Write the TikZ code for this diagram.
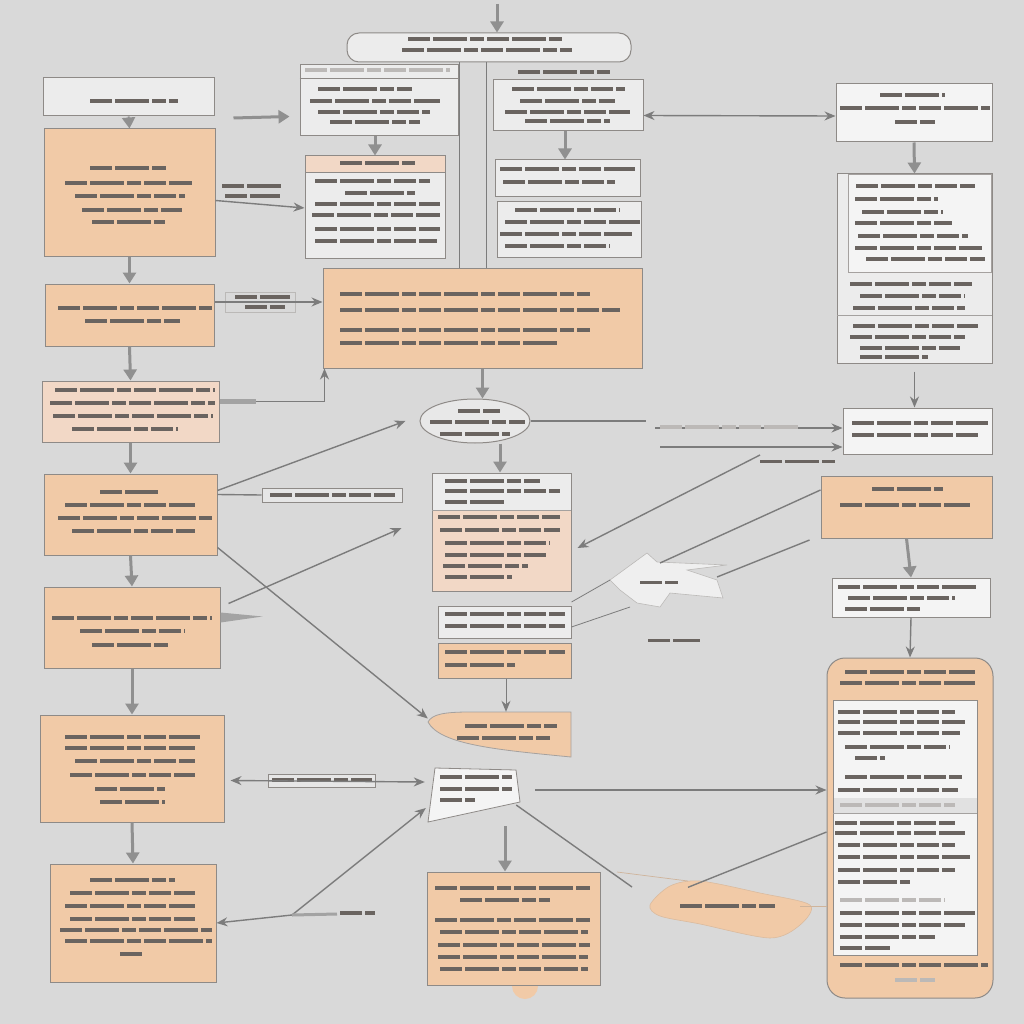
\documentclass[tikz,border=0pt]{standalone}
\usetikzlibrary{arrows.meta,positioning,calc,shapes.geometric}
\definecolor{bgc}{HTML}{D9D9D9}
\definecolor{peachc}{HTML}{F1CAA7}
\definecolor{peachlt}{HTML}{F2D8C6}
\definecolor{litec}{HTML}{ECECEC}
\definecolor{whitec}{HTML}{F4F4F4}
\definecolor{edgec}{HTML}{8E8A87}
\definecolor{linec}{HTML}{7C7C7C}
\definecolor{inkc}{HTML}{6A6460}
\tikzset{
  peach/.style={draw=edgec, fill=peachc, line width=1pt, inner sep=0pt},
  lite/.style={draw=edgec, fill=litec, line width=1pt, inner sep=0pt},
  conn/.style={draw=linec, line width=1.4pt},
  arr/.style={conn, -{Stealth[length=11pt,width=9pt]}},
  dbl/.style={conn, {Stealth[length=11pt,width=9pt]}-{Stealth[length=11pt,width=9pt]}},
  fat/.style={draw=linec!85, line width=3pt, -{Triangle[length=11pt,width=13pt]}},
  ink/.style={draw=inkc, line width=4pt, dash pattern=on 22pt off 3pt on 34pt off 3pt on 14pt off 3pt},
  faint/.style={ink, draw=inkc!45},
}
\begin{document}
\begin{tikzpicture}[x=1pt,y=-1pt]
		% Background
		\fill[bgc] (0,0) rectangle (1024,1024);

		% Top
		\node[lite, rounded corners=12pt, minimum width=284pt, minimum height=29pt] (top) at (489,47.5) {};
		\foreach \ty/\xa/\xb in {39/408/562, 50/402/572} \draw[ink] (\xa,\ty) -- (\xb,\ty);
		\coordinate (src) at (497,4);
		\draw[fat] (src) -- (top.north -| src);

		% Left column
		\node[lite, minimum width=171pt, minimum height=38pt] (l0) at (128.5,97) {};
		\node[peach, minimum width=171pt, minimum height=127pt] (l1) at (129.5,192.5) {};
		\node[peach, minimum width=169pt, minimum height=62pt] (l2) at (129.5,315) {};
		\node[peach, fill=peachlt, minimum width=177pt, minimum height=61pt] (l3) at (130.5,411.5) {};
		\node[peach, minimum width=173pt, minimum height=81pt] (l4) at (130.5,514.5) {};
		\node[peach, minimum width=176pt, minimum height=81pt] (l5) at (132,627.5) {};
		\node[peach, minimum width=184pt, minimum height=107pt] (l6) at (132,768.5) {};
		\node[peach, minimum width=166pt, minimum height=118pt] (l7) at (133,923) {};
		\foreach \ty/\xa/\xb in {101/90/178,
			168/90/168, 183/65/192, 196/75/185, 210/82/182, 222/92/165,
			308/58/212, 321/85/180,
			390/55/215, 403/50/215, 416/53/213, 429/72/178,
			492/100/158, 505/65/195, 518/58/212, 531/72/195,
			618/52/212, 631/80/185, 645/92/170,
			737/65/200, 748/65/195, 761/75/195, 775/70/195, 789/95/165, 802/100/165,
			880/90/175, 893/70/195, 906/65/195, 919/70/195, 930/60/212, 941/65/212, 954/120/145}
			\draw[ink] (\xa,\ty) -- (\xb,\ty);
		\draw[fat, line width=2pt] (l0.south) -- (l1.north);
		\draw[fat] (l1.south) -- (l2.north);
		\draw[fat] (l2.south) -- (l3.north);
		\draw[fat] (l3.south) -- (l4.north);
		\draw[fat] (l4.south) -- (l5.north);
		\draw[fat] (l5.south) -- (l6.north);
		\draw[fat] (l6.south) -- (l7.north);

		% Middle column, upper part
		\node[lite, minimum width=158pt, minimum height=71pt] (m1) at (379,100.5) {};
		\draw[edgec, line width=0.8pt] (m1.west |- 0,78) -- (m1.east |- 0,78);
		\node[lite, minimum width=150pt, minimum height=51pt] (m2) at (568,105.5) {};
		\node[lite, minimum width=140pt, minimum height=102pt] (m3) at (375,207) {};
		\fill[peachlt] (305.5,156.5) rectangle (444.5,172);
		\draw[edgec, line width=0.8pt] (305,172) -- (445,172);
		\node[lite, minimum width=145pt, minimum height=37pt] (m4) at (567.5,178.5) {};
		\node[lite, minimum width=144pt, minimum height=55pt] (m5) at (569,229.5) {};
		\node[peach, minimum width=319pt, minimum height=100pt] (m6) at (482.5,318) {};
		\foreach \ty/\xa/\xb in {89/318/412, 101/310/440, 112/318/430, 122/330/420,
			72/518/610, 89/512/625, 101/520/615, 112/505/630, 121/525/610,
			163/340/415, 181/315/430, 193/345/415, 204/315/440, 215/312/440, 229/315/440, 241/315/437,
			169/500/635, 182/503/615,
			210/515/620, 222/505/640, 234/500/632, 246/505/610,
			294/340/590, 310/340/620, 330/340/590, 343/340/557}
			\draw[ink] (\xa,\ty) -- (\xb,\ty);
		\draw[faint] (305,70) -- (450,70);
		\coordinate (v1) at (459,0);
		\coordinate (v2) at (486,0);
		\draw[conn, line width=1pt] (top.south -| v1) -- (m6.north -| v1);
		\draw[conn, line width=1pt] (top.south -| v2) -- (m6.north -| v2);

		% Upper connectors
		\draw[fat] ([xshift=19pt,yshift=-21pt]l0.east) -- ([xshift=-10pt,yshift=-16pt]m1.west);
		\draw[arr] ([yshift=-8pt]l1.east) -- ([yshift=-1pt]m3.west);
		\foreach \ty/\xa/\xb in {186/222/282, 196/225/280} \draw[ink, line width=3.5pt] (\xa,\ty) -- (\xb,\ty);
		\draw[fat] (m1.south -| m3.north) -- (m3.north);
		\draw[fat] ([xshift=-3pt]m2.south) -- ([xshift=-2.5pt]m4.north);
		\node[draw=edgec!60, line width=0.8pt, minimum width=70pt, minimum height=20pt, inner sep=0pt] (lab2) at (260,302) {};
		\draw[arr] (l2.east |- lab2) -- (m6.west |- lab2);
		\foreach \ty/\xa/\xb in {297/235/290, 307/245/285} \draw[ink, line width=3.5pt] (\xa,\ty) -- (\xb,\ty);
		\draw[arr] ([yshift=10pt]l3.east) -| ([xshift=2pt]m6.south west);
		\draw[draw=linec!70, line width=5pt] ([yshift=10pt]l3.east) -- ++(36,0);

		% Ellipse and the middle boxes
		\node[lite, fill=litec!80!bgc, ellipse, minimum width=110pt, minimum height=44pt] (e1) at (475,421) {};
		\foreach \ty/\xa/\xb in {411/458/500, 422/430/525, 434/440/510} \draw[ink, line width=3.5pt] (\xa,\ty) -- (\xb,\ty);
		\draw[fat] (m6.south) -- (m6.south |- e1.north);
		\draw[conn] (e1.east) -- ++(115,0);
		\node[peach, fill=peachlt, minimum width=139pt, minimum height=118pt] (m7) at (501.5,532) {};
		\fill[litec] (432.5,473.5) rectangle (570.5,510);
		\draw[edgec!80, line width=0.8pt] (432,510) -- (571,510);
		\node[lite, minimum width=133pt, minimum height=32pt] (m8) at (504.5,622) {};
		\node[peach, minimum width=133pt, minimum height=35pt] (m9) at (504.5,660.5) {};
		\foreach \ty/\xa/\xb in {481/445/540, 491/445/560, 502/445/505,
			517/438/560, 530/440/560, 543/445/550, 555/445/548, 566/443/528, 577/445/512,
			614/445/565, 626/445/565, 652/445/565, 665/445/515}
			\draw[ink] (\xa,\ty) -- (\xb,\ty);
		\draw[fat] ([xshift=25pt]e1.south) -- ([xshift=-1.5pt]m7.north);

		% Leaf shaped box
		\node[minimum width=143pt, minimum height=45pt, inner sep=0pt] (m10) at (499.5,734.5) {};
		\filldraw[fill=peachc, draw=edgec!80, line width=0.8pt] (571,712) -- (571,757)
			.. controls (500,750) and (440,745) .. (428,722) .. controls (432,714) and (445,712) .. (470,712) -- cycle;
		\foreach \ty/\xa/\xb in {726/465/557, 738/457/550} \draw[ink, line width=3.5pt] (\xa,\ty) -- (\xb,\ty);
		\draw[arr, line width=1pt] ([xshift=1.5pt]m9.south) -- ([xshift=6.5pt]m10.north);

		% Splash
		\filldraw[fill=litec!85, draw=edgec!60, line width=0.6pt] (610,580) -- (647,553) -- (657,562) -- (727,565) -- (687,570)
			-- (717,580) -- (723,598) -- (670,593) -- (660,607) -- (637,603) -- (620,590) -- cycle;
		\draw[ink, line width=3pt] (640,582) -- (678,582);
		\draw[ink, line width=3pt] (648,640) -- (700,640);
		\coordinate (st1) at (660,563);
		\coordinate (st2) at (717,577);

		% Left to middle connectors
		\draw[arr] ([yshift=24pt]l4.east) -- ([xshift=-14pt]e1.west);
		\node[lite, fill=litec!70!bgc, minimum width=140pt, minimum height=14pt] (lab4) at (332,495) {};
		\draw[ink, line width=3.5pt] (270,495) -- (395,495);
		\draw[conn] ([yshift=20pt]l4.east) -- (lab4.west);
		\draw[arr] ([xshift=8pt,yshift=24pt]l5.east) -- ([xshift=-30pt,yshift=4pt]m7.west);
		\draw[arr] ([yshift=-33pt]l4.east) -- ([yshift=16pt]m10.west);
		\fill[linec!70] ([yshift=15pt]l5.east) -- ++(42,4) -- ++(-42,6) -- cycle;

		% Lower middle
		\node[minimum width=84pt, minimum height=54pt, inner sep=0pt] (m11) at (474,795) {};
		\filldraw[fill=whitec, draw=edgec, line width=0.8pt] (435,768) -- (516,770) -- (520,802) -- (428,822) -- cycle;
		\foreach \ty/\xa/\xb in {777/440/512, 789/440/512, 800/440/475} \draw[ink, line width=3.5pt] (\xa,\ty) -- (\xb,\ty);
		\fill[peachc] (525,986) circle (13pt);
		\node[peach, minimum width=173pt, minimum height=113pt] (m12) at (513.5,928.5) {};
		\foreach \ty/\xa/\xb in {888/435/592, 900/460/550, 920/435/592, 932/440/588, 945/438/590, 957/438/588, 969/440/588}
			\draw[ink] (\xa,\ty) -- (\xb,\ty);
		\node[lite, fill=litec!70!bgc, minimum width=107pt, minimum height=13pt] (lab6) at (321.5,780.5) {};
		\draw[ink, line width=3.5pt] (272,780) -- (372,780);
		\draw[dbl] ([xshift=6pt,yshift=-12pt]l6.east) -- ([xshift=-7pt,yshift=13pt]m11.west);
		\coordinate (k1) at (292,915);
		\draw[dbl] (l7.east) -- (k1) -- ([xshift=-6pt,yshift=-13pt]m11.west);
		\draw[conn, draw=linec!70, line width=3pt] (k1) -- ++(45,-1);
		\draw[ink, line width=3.5pt] (340,913) -- (375,913);
		\draw[fat] ([xshift=31pt,yshift=-4pt]m11.south) -- ([xshift=-8.5pt]m12.north);
		\coordinate (k2) at (632,887);
		\draw[conn] ([yshift=-10pt]m11.east) -- (k2);

		% Right column
		\node[lite, fill=whitec, minimum width=156pt, minimum height=58pt] (r0) at (914,113) {};
		\node[lite, minimum width=155pt, minimum height=189pt] (r1) at (914.5,268.5) {};
		\filldraw[fill=whitec, draw=edgec!80, line width=0.8pt] (848,174.5) rectangle (991.5,272);
		\draw[edgec!80, line width=0.8pt] (837,315) -- (992,315);
		\node[lite, fill=whitec, minimum width=149pt, minimum height=46pt] (r2) at (917.5,431) {};
		\node[peach, minimum width=171pt, minimum height=62pt] (r3) at (906.5,507) {};
		\node[lite, fill=whitec, minimum width=158pt, minimum height=39pt] (r4) at (911,597.5) {};
		\node[peach, rounded corners=18pt, minimum width=166pt, minimum height=340pt] (r5) at (910,828) {};
		\node[lite, fill=whitec, minimum width=144pt, minimum height=255pt] (r5in) at (905,827.5) {};
		\fill[litec!90!gray] (833.5,798) rectangle (976.5,813);
		\draw[edgec!80, line width=0.8pt] (833,813) -- (977,813);
		\foreach \ty/\xa/\xb in {95/880/945, 108/840/990, 122/895/935,
			186/856/975, 199/855/938, 212/862/943, 223/855/952, 236/858/968, 248/855/982, 259/866/985,
			284/850/972, 296/860/965, 308/853/965,
			326/853/978, 337/850/965, 348/860/960, 357/860/928,
			423/852/988, 435/852/978,
			489/872/943, 505/840/970,
			587/838/978, 598/848/955, 609/845/920,
			672/845/975, 683/840/975,
			712/838/955, 722/838/965, 733/838/960, 747/845/950, 758/855/885, 777/845/962, 790/838/958,
			823/835/955, 833/835/965, 845/838/955, 857/838/970, 870/838/955, 882/838/910,
			913/840/975, 925/840/965, 937/840/935, 948/840/890,
			965/840/988}
			\draw[ink] (\xa,\ty) -- (\xb,\ty);
		\foreach \ty/\xa/\xb in {805/840/955, 900/840/945, 980/895/935} \draw[faint] (\xa,\ty) -- (\xb,\ty);
		\draw[fat] (r0.south) -- (r1.north);
		\draw[arr] ([yshift=-8pt]r1.south) -- (r1.south |- r2.north);
		\draw[fat] (r3.south) -- (r4.north);
		\draw[arr] (r4.south) -- (r5.north);

		% Right to middle connectors
		\draw[dbl] ([yshift=-10pt]m2.east) -- ([yshift=-3pt]r0.west);
		\coordinate (c1) at (655,428);
		\coordinate (c2) at (660,447);
		\draw[arr] (c1) -- (c1 -| r2.west);
		\draw[faint, line width=3.5pt] (660,427) -- (800,427);
		\draw[arr] (c2) -- (c2 -| r2.west);
		\draw[ink, line width=3pt] (760,461) -- (835,461);
		\coordinate (k5) at (760,455);
		\draw[arr] (k5) -- ([xshift=6pt,yshift=-16pt]m7.east);
		\draw[conn] ([yshift=17pt]r3.west) -- (st1);
		\draw[conn] ([xshift=-11pt,yshift=-33pt]r3.west) -- (st2);
		\draw[conn, line width=0.8pt] ([yshift=20pt]m8.east) -- (610,580);
		\draw[conn, line width=0.8pt] ([yshift=-5pt]m8.east) -- (630,607);
		\draw[arr] ([xshift=19pt,yshift=5pt]m11.east) -- ([yshift=38pt]r5.west);

		% Blob at the bottom
		\node[minimum width=152pt, minimum height=37pt, inner sep=0pt] (m13) at (724,906) {};
		\filldraw[fill=peachc, draw=peachc!80!gray, line width=0.6pt] plot[smooth cycle] coordinates
			{(650,905) (670,886) (700,881) (760,893) (810,905) (800,925) (770,938) (700,924) (660,916)};
		\draw[ink, line width=3.5pt] (680,906) -- (775,906);
		\draw[conn] ([yshift=-4pt]r5.west) -- ([xshift=-36pt]m13.north);
		\draw[peachc!70!gray, line width=0.7pt] (617,872) -- (688,881);
		\draw[peachc!70!gray, line width=0.7pt] (m13.east) -- (r5.west |- m13.east);
	\end{tikzpicture}
\end{document}
